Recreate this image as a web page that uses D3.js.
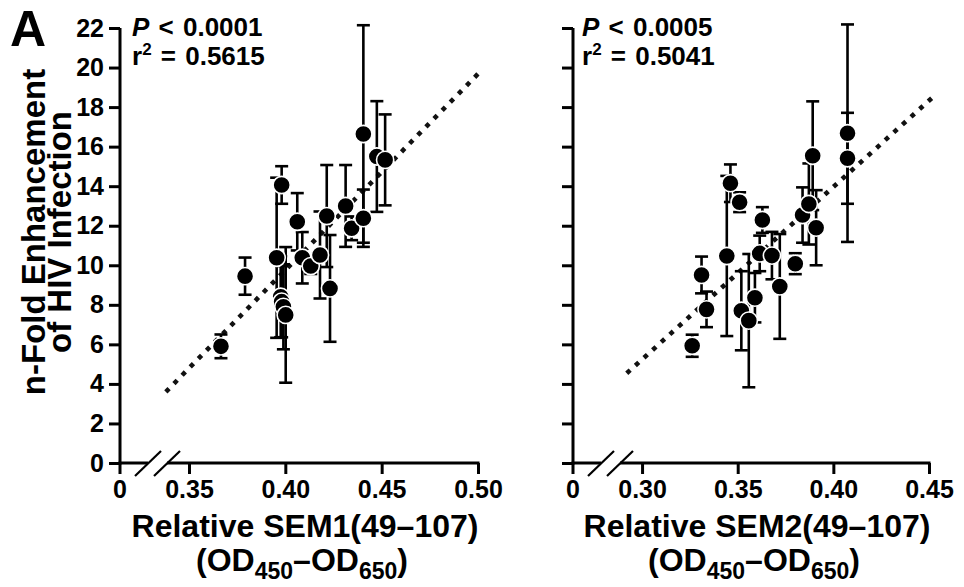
<!DOCTYPE html>
<html>
<head>
<meta charset="utf-8">
<script src="https://cdn.jsdelivr.net/npm/d3@7/dist/d3.min.js"></script>
<style>
  body { margin: 0; background: #fff; }
  svg text { font-family: "Liberation Sans", Arial, Helvetica, sans-serif; font-weight: bold; fill: #000; }
</style>
</head>
<body>
<svg id="chart" width="964" height="587"></svg>
<script>
// shared y axis
const yTicks = [0, 2, 4, 6, 8, 10, 12, 14, 16, 18, 20, 22]

// left panel: SEM1(49-107)
const sem1X = [0.3666, 0.3791, 0.3955, 0.3981, 0.3976, 0.3981, 0.3990, 0.4002, 0.4062, 0.4088,
	0.4132, 0.4180, 0.4215, 0.4232, 0.4313, 0.4344, 0.4405, 0.4405, 0.4475, 0.4518]
const sem1Y = [5.9, 9.45, 10.38, 14.06, 8.41, 8.16, 7.9, 7.49, 12.2, 10.38,
	9.96, 10.52, 12.49, 8.83, 13.0, 11.87, 12.38, 16.64, 15.5, 15.33]
const sem1Err = [0.6, 0.94, 4.05, 0.95, 2.05, 1.8, 2.15, 3.43, 1.45, 1.3,
	0.4, 2.2, 2.58, 2.7, 2.07, 0.6, 1.45, 5.5, 2.8, 2.3]
const sem1FitX = [0.338, 0.50]
const sem1FitY = [3.6, 19.68]
const sem1Ticks = [0.35, 0.40, 0.45, 0.50]

// right panel: SEM2(49-107)
const sem2X = [0.3262, 0.3311, 0.3337, 0.3443, 0.3462, 0.3510, 0.3519, 0.3558, 0.3590, 0.3615,
	0.3629, 0.3679, 0.3720, 0.3801, 0.3839, 0.3872, 0.3892, 0.3910, 0.4074, 0.4074]
const sem2Y = [5.93, 9.51, 7.77, 10.47, 14.15, 13.19, 7.7, 7.2, 8.36, 10.6,
	12.29, 10.49, 8.93, 10.08, 12.54, 13.1, 15.54, 11.9, 16.68, 15.41]
const sem2Err = [0.56, 0.93, 0.9, 4.05, 0.95, 0.5, 2.0, 3.37, 1.25, 0.9,
	0.65, 1.2, 2.65, 0.53, 1.4, 2.05, 2.75, 1.9, 5.5, 2.3]
const sem2FitX = [0.292, 0.4514]
const sem2FitY = [4.54, 18.45]
const sem2Ticks = [0.30, 0.35, 0.40, 0.45]

const panels = [
	{ xs: sem1X, ys: sem1Y, errs: sem1Err, fitX: sem1FitX, fitY: sem1FitY, ticks: sem1Ticks,
		axisStart: 0.3142, left: 120, right: 478, yLabels: true,
		p: '< 0.0001', r2: ' = 0.5615', title: 'Relative SEM1(49\u2013107)' },
	{ xs: sem2X, ys: sem2Y, errs: sem2Err, fitX: sem2FitX, fitY: sem2FitY, ticks: sem2Ticks,
		axisStart: 0.2639, left: 573, right: 929, yLabels: false,
		p: '< 0.0005', r2: ' = 0.5041', title: 'Relative SEM2(49\u2013107)' }
]

const svg = d3.select('#chart')
const plotTop = 28, plotBottom = 463

const y = d3.scaleLinear().domain([0, 22]).range([plotBottom, plotTop])

function drawPanel(cfg) {
	const x = d3.scaleLinear()
		.domain([cfg.axisStart, cfg.ticks[cfg.ticks.length - 1]])
		.range([cfg.left, cfg.right])
	const g = svg.append('g')
	const pts = cfg.xs.map((v, i) => ({ x: v, y: cfg.ys[i], e: cfg.errs[i] }))

	// dotted fit line
	g.append('line')
		.attr('x1', x(cfg.fitX[0])).attr('y1', y(cfg.fitY[0]))
		.attr('x2', x(cfg.fitX[1])).attr('y2', y(cfg.fitY[1]))
		.attr('stroke', '#111').attr('stroke-width', 4.6)
		.attr('stroke-dasharray', '4.6 7')

	// error bars
	const cap = 6.5
	const bars = g.append('g').attr('stroke', '#000').attr('stroke-width', 2.6)
	pts.forEach(d => {
		const cx = x(d.x)
		bars.append('line').attr('x1', cx).attr('x2', cx)
			.attr('y1', y(d.y - d.e)).attr('y2', y(d.y + d.e))
		bars.append('line').attr('x1', cx - cap).attr('x2', cx + cap)
			.attr('y1', y(d.y + d.e)).attr('y2', y(d.y + d.e))
		bars.append('line').attr('x1', cx - cap).attr('x2', cx + cap)
			.attr('y1', y(d.y - d.e)).attr('y2', y(d.y - d.e))
	})

	g.append('g')
		.selectAll('circle')
		.data(pts)
		.join('circle')
		.attr('cx', d => x(d.x))
		.attr('cy', d => y(d.y))
		.attr('r', 8.6)
		.attr('fill', '#000')
		.attr('stroke', '#fff')
		.attr('stroke-width', 1.6)

	// y axis
	const yAxis = d3.axisLeft(y).tickValues(yTicks).tickSize(11).tickSizeOuter(0).tickPadding(5)
	if (!cfg.yLabels) yAxis.tickFormat('')
	const ya = g.append('g').attr('transform', `translate(${cfg.left},0)`).call(yAxis)
	ya.select('.domain').attr('stroke-width', 3).attr('d', `M0,${plotBottom + 1.5}V${plotTop}`)
	ya.selectAll('.tick line').attr('stroke-width', 3)
	ya.selectAll('.tick text').attr('font-size', 25).attr('font-family', null)

	// x axis, with a break after zero
	const xAxis = d3.axisBottom(x).tickValues(cfg.ticks).tickSize(11).tickSizeOuter(0)
		.tickPadding(6).tickFormat(d3.format('.2f'))
	const xa = g.append('g').attr('transform', `translate(0,${plotBottom})`).call(xAxis)
	xa.select('.domain').remove()
	xa.selectAll('.tick line').attr('stroke-width', 3)
	xa.selectAll('.tick text').attr('font-size', 25).attr('font-family', null)

	const b1 = cfg.left + 28, b2 = cfg.left + 47
	xa.append('path')
		.attr('d', `M${cfg.left - 1.5},0H${b1}M${b2},0H${cfg.right + 1.5}M${cfg.left},0V11`)
		.attr('stroke', '#000').attr('stroke-width', 3).attr('fill', 'none')
	;[b1, b2].forEach(bx => {
		xa.append('line')
			.attr('x1', bx - 13).attr('y1', 13)
			.attr('x2', bx + 13).attr('y2', -12)
			.attr('stroke', '#000').attr('stroke-width', 2.2)
	})
	xa.append('text')
		.attr('x', cfg.left).attr('y', 17).attr('dy', '0.71em')
		.attr('text-anchor', 'middle').attr('font-size', 25)
		.text('0')

	// stats
	const sx = cfg.left + (cfg.yLabels ? 12 : 9)
	const st = g.append('text').attr('x', sx).attr('y', 36).attr('font-size', 26)
		.attr('word-spacing', 2)
	st.append('tspan').attr('font-style', 'italic').text('P')
	st.append('tspan').text(' ' + cfg.p)
	const r2 = g.append('text').attr('x', sx).attr('y', 65).attr('font-size', 26)
		.attr('word-spacing', 2)
	r2.append('tspan').text('r')
	r2.append('tspan').attr('font-size', 17).attr('dy', -10).text('2')
	r2.append('tspan').attr('dy', 10).text(cfg.r2)

	// x title
	const cx = (cfg.left + cfg.right) / 2 + 6
	g.append('text').attr('x', cx).attr('y', 537).attr('text-anchor', 'middle')
		.attr('font-size', 32).text(cfg.title)
	const sub = g.append('text').attr('x', cx - 3).attr('y', 571).attr('text-anchor', 'middle')
		.attr('font-size', 32)
	sub.append('tspan').text('(OD')
	sub.append('tspan').attr('font-size', 23).attr('dy', 8).text('450')
	sub.append('tspan').attr('dy', -8).text('\u2013OD')
	sub.append('tspan').attr('font-size', 23).attr('dy', 8).text('650')
	sub.append('tspan').attr('dy', -8).text(')')
}

panels.forEach(drawPanel)

// y title
const yt = svg.append('g').attr('transform', 'translate(0,232) rotate(-90)')
yt.append('text').attr('x', 0).attr('y', 45).attr('text-anchor', 'middle')
	.attr('font-size', 33).text('n-Fold Enhancement')
yt.append('text').attr('x', 0).attr('y', 71).attr('text-anchor', 'middle')
	.attr('font-size', 33).text('of HIV Infection')

svg.append('text').attr('x', 10).attr('y', 46).attr('font-size', 50).text('A')
</script>
</body>
</html>
